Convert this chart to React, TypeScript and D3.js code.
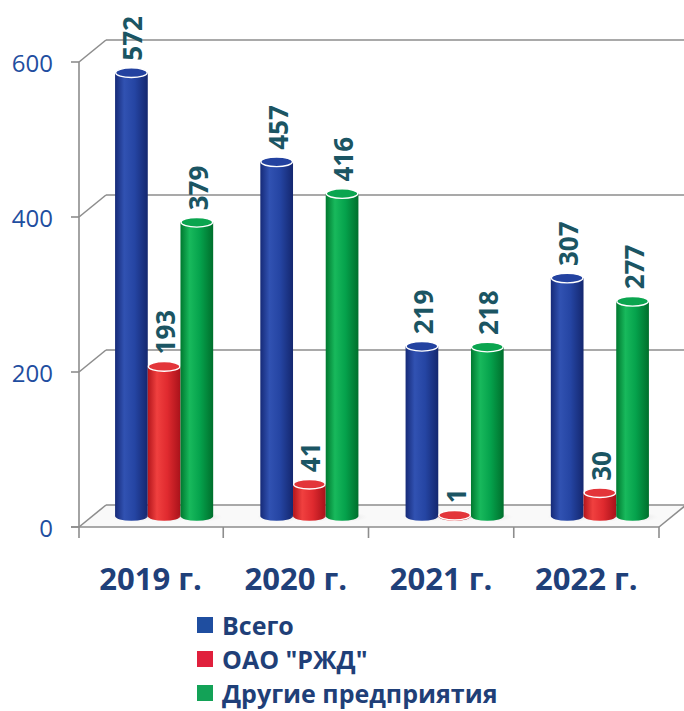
import React, { useEffect } from "react";
import { scaleLinear, scaleBand } from "d3";

// data
const years = ["2019 г.", "2020 г.", "2021 г.", "2022 г."];
const seriesNames = ["Всего", "ОАО \"РЖД\"", "Другие предприятия"];
const total = [572, 457, 219, 307];
const rzd = [193, 41, 1, 30];
const others = [379, 416, 218, 277];
const yTicks = [0, 200, 400, 600];

const seriesValues = [total, rzd, others];
const seriesKeys = ["blue", "red", "green"];

// colors
const grad: Record<string, string[]> = {
  blue: ["#162a78", "#3152b2", "#2545a3", "#14276f"],
  red: ["#b3161c", "#f0403f", "#e02a2f", "#a8121a"],
  green: ["#00782f", "#18b95c", "#05a24c", "#006f2c"],
};
const topFill: Record<string, string> = { blue: "#2342a0", red: "#e3353a", green: "#0aa54f" };
const legendFill: Record<string, string> = { blue: "#1f4ea0", red: "#e0203c", green: "#13a257" };

const W = 684;
const H = 711;
const DX = 27;
const DY = -22;

const App = () => {
  useEffect(() => {
    document.body.style.margin = "0";
  }, []);

  const y = scaleLinear().domain([0, 600]).range([527, 62]);
  const x0 = scaleBand<string>().domain(years).range([78, 659]);
  const bw = x0.bandwidth();
  const barW = 32.7;
  const x1 = scaleBand<string>()
    .domain(seriesKeys)
    .range([bw / 2 - 1.5 * barW, bw / 2 + 1.5 * barW]);

  const y0 = y(0);
  const ry = 4.8;
  const gridColor = "#8d8d8d";

  return (
    <svg width={W} height={H} style={{ display: "block", background: "#fff" }}>
      <defs>
        {seriesKeys.map((k) => (
          <linearGradient key={k} id={"g-" + k} x1="0" x2="1" y1="0" y2="0">
            <stop offset="0%" stopColor={grad[k][0]} />
            <stop offset="28%" stopColor={grad[k][1]} />
            <stop offset="60%" stopColor={grad[k][2]} />
            <stop offset="100%" stopColor={grad[k][3]} />
          </linearGradient>
        ))}
        <radialGradient id="shadow" cx="0.5" cy="0.5" r="0.5">
          <stop offset="0%" stopColor="#c8c8c8" stopOpacity="0.8" />
          <stop offset="100%" stopColor="#e8e8e8" stopOpacity="0" />
        </radialGradient>
      </defs>

      {/* floor */}
      <path
        d={`M79,${y0} L${x0.range()[1]},${y0} L${x0.range()[1] + DX},${y0 + DY} L${79 + DX},${y0 + DY} Z`}
        fill="#f9f9f9"
      />

      {/* back wall gridlines + side wall diagonals */}
      {yTicks.map((t) => (
        <g key={t} stroke={gridColor} strokeWidth={1.6} fill="none">
          <line x1={79 + DX} x2={W + 10} y1={y(t) + DY} y2={y(t) + DY} />
          <line x1={79} x2={79 + DX} y1={y(t)} y2={y(t) + DY} />
          <line x1={71} x2={79} y1={y(t)} y2={y(t)} />
        </g>
      ))}
      {/* floor right edge */}
      <line
        x1={x0.range()[1]}
        y1={y0}
        x2={x0.range()[1] + DX}
        y2={y0 + DY}
        stroke={gridColor}
        strokeWidth={1.6}
      />
      {/* front axis */}
      <line x1={79} x2={79} y1={y(600)} y2={y0 + 11} stroke={gridColor} strokeWidth={1.6} />
      <line x1={71} x2={x0.range()[1]} y1={y0} y2={y0} stroke={gridColor} strokeWidth={1.6} />
      {years.map((yr) => (
        <line
          key={yr}
          x1={(x0(yr) as number) + bw}
          x2={(x0(yr) as number) + bw}
          y1={y0}
          y2={y0 + 11}
          stroke={gridColor}
          strokeWidth={1.6}
        />
      ))}

      {/* y labels */}
      {yTicks.map((t) => (
        <text
          key={t}
          x={53}
          y={y(t)}
          textAnchor="end"
          dominantBaseline="central"
          fontFamily="'Open Sans', sans-serif"
          fontSize={24}
          fill="#1f4ea0"
        >
          {t}
        </text>
      ))}

      {/* bars */}
      {years.map((yr, i) => (
        <g key={yr} transform={`translate(${(x0(yr) as number) + DX / 2},${DY / 2})`}>
          {seriesKeys.map((k, s) => {
            const v = seriesValues[s][i];
            const left = x1(k) as number;
            const right = left + barW;
            const cx = left + barW / 2;
            const top = y(v);
            return (
              <g key={k}>
                <ellipse cx={cx + 3} cy={y0 + 1} rx={barW * 0.7} ry={5} fill="url(#shadow)" />
                <path
                  d={`M${left},${top} L${left},${y0} A${barW / 2},${ry} 0 0 0 ${right},${y0} L${right},${top} Z`}
                  fill={`url(#g-${k})`}
                />
                <ellipse
                  cx={cx}
                  cy={top}
                  rx={barW / 2 - 0.6}
                  ry={ry}
                  fill={topFill[k]}
                  stroke="#ffffff"
                  strokeWidth={1.4}
                />
                <text
                  transform={`translate(${cx + 1},${top - 12}) rotate(-90)`}
                  textAnchor="start"
                  dominantBaseline="central"
                  fontFamily="'Open Sans', sans-serif"
                  fontWeight="bold"
                  fontSize={26}
                  fill="#1b5563"
                >
                  {v}
                </text>
              </g>
            );
          })}
        </g>
      ))}

      {/* category labels */}
      {years.map((yr) => (
        <text
          key={yr}
          x={(x0(yr) as number) + bw / 2}
          y={590}
          textAnchor="middle"
          fontFamily="'Open Sans', sans-serif"
          fontWeight="bold"
          fontSize={31}
          fill="#1f4079"
        >
          {yr}
        </text>
      ))}

      {/* legend */}
      {seriesNames.map((name, s) => (
        <g key={name} transform={`translate(197,${625 + s * 34})`}>
          <rect x={0} y={-8} width={16} height={16} fill={legendFill[seriesKeys[s]]} />
          <text
            x={25}
            y={0}
            dominantBaseline="central"
            fontFamily="'Open Sans', sans-serif"
            fontWeight="bold"
            fontSize={25}
            fill="#1f3f78"
          >
            {name}
          </text>
        </g>
      ))}
    </svg>
  );
};

export default App;
